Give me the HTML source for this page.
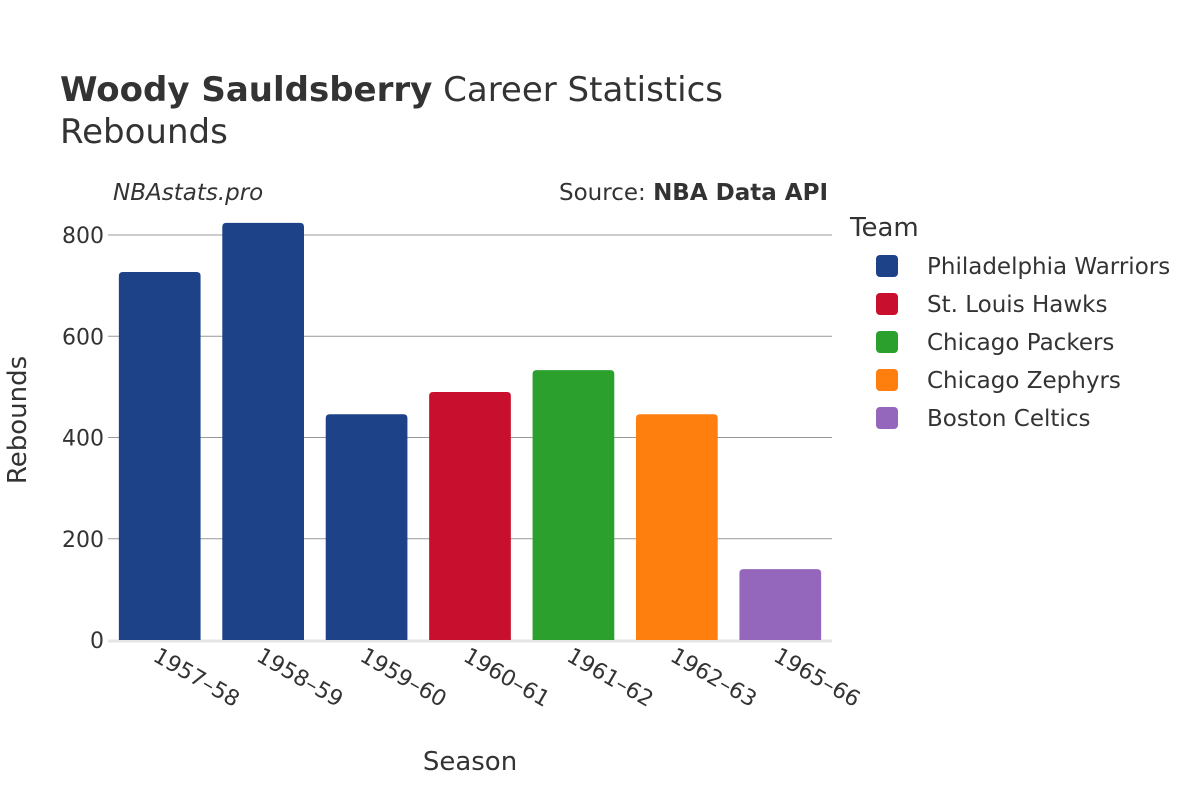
<!DOCTYPE html>
<html><head><meta charset="utf-8"><style>
body{margin:0;background:#fff}
svg text{font-family:"DejaVu Sans","Liberation Sans",sans-serif;fill:#333}
</style></head><body>
<svg id="chart" width="1200" height="800" xmlns="http://www.w3.org/2000/svg">
<rect width="1200" height="800" fill="#fff"/>
<text x="60" y="101" font-size="34"><tspan font-weight="bold">Woody Sauldsberry</tspan> Career Statistics</text>
<text x="60" y="143" font-size="34">Rebounds</text>
<text x="113" y="200" font-size="23" font-style="italic">NBAstats.pro</text>
<text x="828" y="200" font-size="23" text-anchor="end">Source: <tspan font-weight="bold">NBA Data API</tspan></text>
<g id="grid"></g><g id="bars"></g><g id="xlabels"></g>
<text x="470" y="770" font-size="26" text-anchor="middle">Season</text>
<text transform="translate(26,420) rotate(-90)" font-size="26" text-anchor="middle">Rebounds</text>
<text x="850" y="236" font-size="26">Team</text>
<g id="legend"></g>
</svg>
<script>
const seasons=["1957–58","1958–59","1959–60","1960–61","1961–62","1962–63","1965–66"];
const rebounds=[727,824,446,490,533,446,140];
const teams=["Philadelphia Warriors","Philadelphia Warriors","Philadelphia Warriors","St. Louis Hawks","Chicago Packers","Chicago Zephyrs","Boston Celtics"];
const legendTeams=["Philadelphia Warriors","St. Louis Hawks","Chicago Packers","Chicago Zephyrs","Boston Celtics"];
const teamColors=["#1d4287","#c8102e","#2ca02c","#ff7f0e","#9467bd"];
const yTicks=[0,200,400,600,800];
const NS="http://www.w3.org/2000/svg";
const x0=108,x1=832,y0=640,yTop=235,yMax=800;
const band=(x1-x0)/seasons.length;
const y=v=>y0-(v/yMax)*(y0-yTop);
const xc=i=>x0+band*(i+0.5);
function mk(t,a,p){const e=document.createElementNS(NS,t);for(const k in a)e.setAttribute(k,a[k]);p.appendChild(e);return e;}
const grid=document.getElementById('grid');
yTicks.forEach(v=>{
  if(v>0){const l=mk('line',{x1:x0,x2:x1,y1:y(v),y2:y(v),stroke:'#999','stroke-width':1},grid);
  
  }
  const t=mk('text',{x:x0-4,y:y(v)+8,'font-size':22,'text-anchor':'end'},grid);t.textContent=v;
  
  
});
const base=mk('line',{x1:x0,x2:x1,y1:y0+1,y2:y0+1,stroke:'#e5e5e5','stroke-width':3},grid);


const bars=document.getElementById('bars'),xl=document.getElementById('xlabels');
const bw=band*0.79;
seasons.forEach((s,i)=>{
  const top=y(rebounds[i]),h=y0-top,r=4,left=xc(i)-bw/2;
  const col=teamColors[legendTeams.indexOf(teams[i])];
  const p=mk('path',{d:`M${left},${y0}V${top+r}Q${left},${top} ${left+r},${top}H${left+bw-r}Q${left+bw},${top} ${left+bw},${top+r}V${y0}Z`,fill:col},bars);
  
  
  const t=mk('text',{transform:`translate(${xc(i)-8},${y0+20}) rotate(30)`,'font-size':22},xl);t.textContent=s;
  
  
});
const lg=document.getElementById('legend');
legendTeams.forEach((n,i)=>{
  const g=mk('g',{},lg);
  
  
  mk('rect',{x:876,y:255+i*38,width:22,height:22,rx:4,fill:teamColors[i]},g);
  const t=mk('text',{x:927,y:274+i*38,'font-size':23},g);t.textContent=n;
});
</script>
</body></html>
